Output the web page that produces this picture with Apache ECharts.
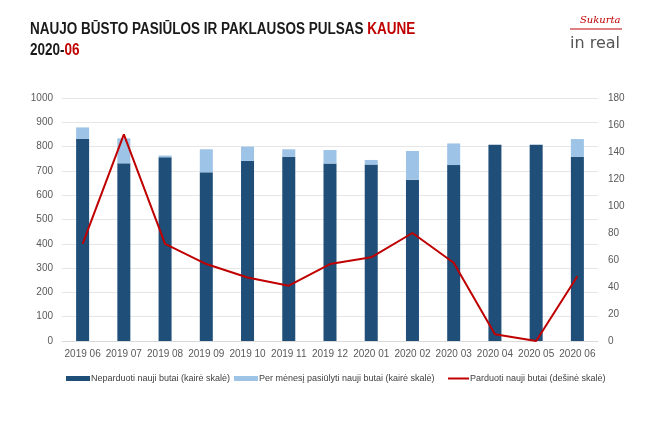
<!DOCTYPE html>
<html>
<head>
<meta charset="utf-8">
<script src="https://cdn.jsdelivr.net/npm/echarts@6/dist/echarts.min.js"></script>
<style>html,body{margin:0;padding:0;background:#fff}#c{width:670px;height:426px}</style>
</head>
<body>
<div id="c"></div>
<script>
const categories = ['2019 06','2019 07','2019 08','2019 09','2019 10','2019 11','2019 12','2020 01','2020 02','2020 03','2020 04','2020 05','2020 06'];
const unsold = [832, 731, 756, 694, 741, 758, 730, 726, 664, 724, 808, 808, 758];
const offered = [47, 103, 7, 95, 59, 31, 56, 19, 118, 89, 0, 0, 73];
const sold = [72, 153, 72, 57, 47, 41, 57, 62, 80, 58, 5, 0, 48];
const leftTicks = {min: 0, max: 1000, interval: 100};
const rightTicks = {min: 0, max: 180, interval: 20};
const names = ['Neparduoti nauji butai (kairė skalė)', 'Per mėnesį pasiūlyti nauji butai (kairė skalė)', 'Parduoti nauji butai (dešinė skalė)'];

const F = '"Liberation Sans",Arial,sans-serif';
const legendText = {fontFamily: F, fontSize: 9, color: '#404040', padding: [0, 0, 0, -4]};
const chart = echarts.init(document.getElementById('c'), null, {renderer: 'canvas'});
chart.setOption({
  animation: false,
  backgroundColor: '#fff',
  graphic: [
    {type: 'text', x: 30, y: 19, scaleX: 0.845, style: {
      text: '{a|NAUJO BŪSTO PASIŪLOS IR PAKLAUSOS PULSAS }{r|KAUNE}\n{a|2020-}{r|06}',
      rich: {
        a: {fontFamily: F, fontWeight: 'bold', fontSize: 16, fill: '#1a1a1a', lineHeight: 21},
        r: {fontFamily: F, fontWeight: 'bold', fontSize: 16, fill: '#c00000', lineHeight: 21}
      }
    }},
    {type: 'text', x: 580, y: 15, style: {text: 'Sukurta', fontFamily: '"DejaVu Serif",serif', fontStyle: 'italic', fontSize: 10, fill: '#c00000'}},
    {type: 'line', shape: {x1: 570, y1: 29, x2: 622, y2: 29}, style: {stroke: '#c00000', lineWidth: 1}},
    {type: 'text', x: 570, y: 36, style: {text: 'in real', fontFamily: '"DejaVu Sans"', fontSize: 16, fill: '#555'}}
  ],
  grid: {left: 62, right: 72, top: 98, bottom: 85, containLabel: false},
  legend: [
    {left: 61, top: 369, itemWidth: 24, itemHeight: 5, textStyle: legendText, data: [{name: names[0], icon: 'rect'}]},
    {left: 229, top: 369, itemWidth: 24, itemHeight: 5, textStyle: legendText, data: [{name: names[1], icon: 'rect'}]},
    {left: 443, top: 369, itemWidth: 21, itemHeight: 2, textStyle: legendText, data: [{name: names[2], icon: 'rect'}]}
  ],
  xAxis: {
    type: 'category', data: categories,
    axisLine: {lineStyle: {color: '#d9d9d9'}},
    axisTick: {show: false},
    axisLabel: {fontFamily: F, fontSize: 10, color: '#595959', margin: 8, interval: 0}
  },
  yAxis: [
    {type: 'value', min: leftTicks.min, max: leftTicks.max, interval: leftTicks.interval,
     axisLine: {show: false}, axisTick: {show: false},
     axisLabel: {fontFamily: F, fontSize: 10, color: '#595959', margin: 9, formatter: v => String(v)},
     splitLine: {lineStyle: {color: '#e6e6e6'}}},
    {type: 'value', min: rightTicks.min, max: rightTicks.max, interval: rightTicks.interval,
     axisLine: {show: false}, axisTick: {show: false},
     axisLabel: {fontFamily: F, fontSize: 10, color: '#595959', margin: 10, formatter: v => String(v)},
     splitLine: {show: false}}
  ],
  series: [
    {name: names[0], type: 'bar', stack: 's', data: unsold, barWidth: 13, itemStyle: {color: '#1f4e79'}},
    {name: names[1], type: 'bar', stack: 's', data: offered, barWidth: 13, itemStyle: {color: '#9dc3e6'}},
    {name: names[2], type: 'line', yAxisIndex: 1, data: sold, symbol: 'none', lineStyle: {color: '#c00000', width: 2}, itemStyle: {color: '#c00000'}}
  ]
});
</script>
</body>
</html>
